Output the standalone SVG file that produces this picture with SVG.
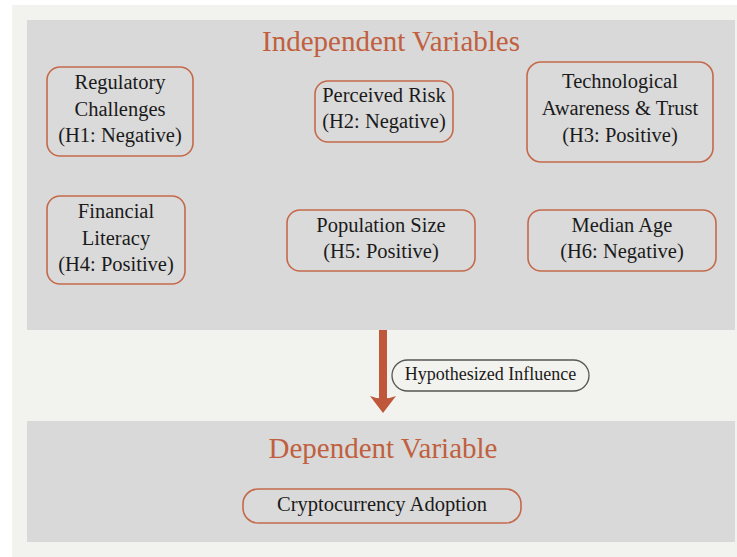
<svg xmlns="http://www.w3.org/2000/svg" width="737" height="557" viewBox="0 0 737 557">
  <style>
    .panel { fill: #d9d9d9; }
    .title { font-family: "Liberation Serif", "Times New Roman", serif; font-size: 29px; fill: #c0603f; text-anchor: middle; }
    .box { fill: #dadada; stroke: #c5694b; stroke-width: 1.6; }
    .label { font-family: "Liberation Serif", "Times New Roman", serif; font-size: 20.5px; fill: #1a1a1a; text-anchor: middle; }
    .pill { fill: #f2f2ee; stroke: #555555; stroke-width: 1.3; }
    .edge-label { font-family: "Liberation Serif", "Times New Roman", serif; font-size: 18px; fill: #1a1a1a; text-anchor: middle; }
    .arrow { fill: #bf583a; }
  </style>

  <!-- backdrop -->
  <rect x="0" y="0" width="737" height="557" fill="#ffffff"/>
  <rect x="12" y="5" width="725" height="552" fill="#f2f2ee"/>

  <!-- section panels -->
  <rect class="panel" x="27" y="20" width="708" height="310"/>
  <rect class="panel" x="27" y="421" width="708" height="121"/>

  <text class="title" x="391" y="51">Independent Variables</text>
  <text class="title" x="383" y="458">Dependent Variable</text>

  <!-- independent variable nodes -->
  <g id="regulatory-challenges">
    <rect class="box" x="47" y="67" width="146" height="89" rx="13"/>
    <text class="label" x="120" y="89">Regulatory</text>
    <text class="label" x="120" y="116">Challenges</text>
    <text class="label" x="120" y="142">(H1: Negative)</text>
  </g>

  <g id="perceived-risk">
    <rect class="box" x="315" y="81" width="138" height="61" rx="13"/>
    <text class="label" x="384" y="102">Perceived Risk</text>
    <text class="label" x="384" y="128">(H2: Negative)</text>
  </g>

  <g id="technological-awareness">
    <rect class="box" x="527" y="62" width="186" height="100" rx="14"/>
    <text class="label" x="620" y="88">Technological</text>
    <text class="label" x="620" y="115">Awareness &amp; Trust</text>
    <text class="label" x="620" y="142">(H3: Positive)</text>
  </g>

  <g id="financial-literacy">
    <rect class="box" x="47" y="196" width="138" height="88" rx="13"/>
    <text class="label" x="116" y="218">Financial</text>
    <text class="label" x="116" y="245">Literacy</text>
    <text class="label" x="116" y="271">(H4: Positive)</text>
  </g>

  <g id="population-size">
    <rect class="box" x="287" y="210" width="188" height="61" rx="13"/>
    <text class="label" x="381" y="232">Population Size</text>
    <text class="label" x="381" y="258">(H5: Positive)</text>
  </g>

  <g id="median-age">
    <rect class="box" x="528" y="210" width="188" height="61" rx="13"/>
    <text class="label" x="622" y="232">Median Age</text>
    <text class="label" x="622" y="258">(H6: Negative)</text>
  </g>

  <!-- dependent variable node -->
  <g id="cryptocurrency-adoption">
    <rect class="box" x="243" y="489" width="278" height="34" rx="15"/>
    <text class="label" x="382" y="511">Cryptocurrency Adoption</text>
  </g>

  <!-- influence connector -->
  <g id="connectors">
    <rect class="arrow" x="379" y="330" width="8" height="70"/>
    <path class="arrow" d="M370,396 Q383,401 396,396 L383,413 Z"/>
    <rect class="pill" x="392" y="360" width="197" height="31" rx="15.5"/>
    <text class="edge-label" x="490.5" y="380">Hypothesized Influence</text>
  </g>
</svg>
